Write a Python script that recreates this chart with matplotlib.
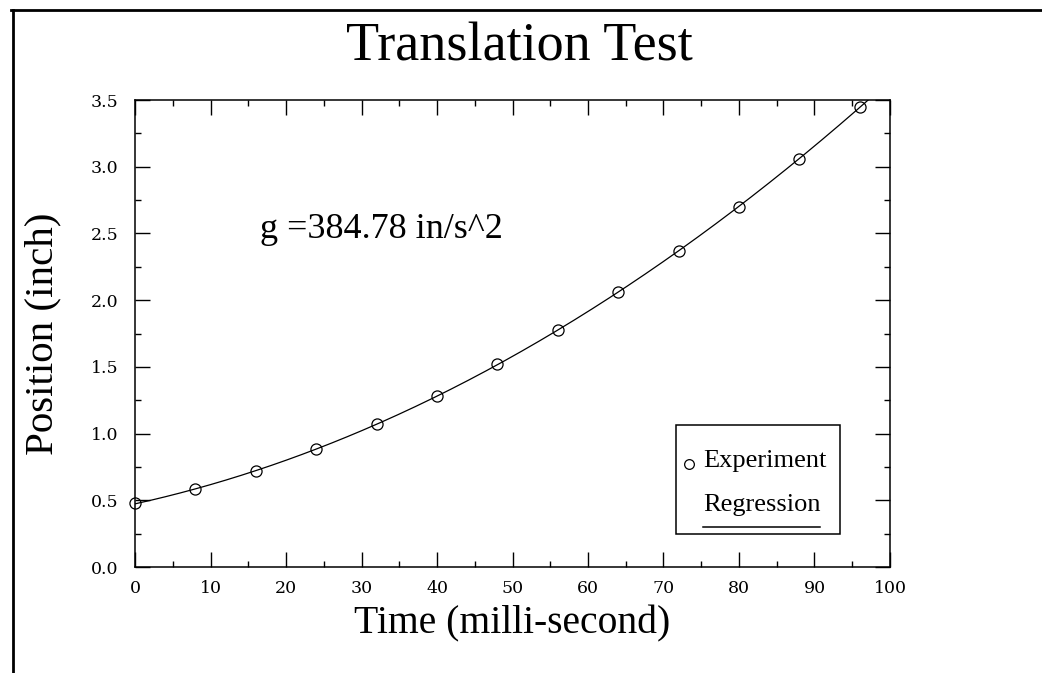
import numpy as np
import matplotlib.pyplot as plt
import matplotlib as mpl
from matplotlib.lines import Line2D
from matplotlib.patches import Rectangle

# --------- datos ---------
tiempo_ms = [0, 8, 16, 24, 32, 40, 48, 56, 64, 72, 80, 88, 96]
posicion_in = [0.477, 0.582, 0.717, 0.885, 1.072, 1.284, 1.519,
               1.777, 2.059, 2.368, 2.701, 3.056, 3.451]
x_ticks = [0, 10, 20, 30, 40, 50, 60, 70, 80, 90, 100]
y_ticks = [0.0, 0.5, 1.0, 1.5, 2.0, 2.5, 3.0, 3.5]

mpl.rcParams["font.family"] = ["Liberation Serif", "DejaVu Serif"]

fig = plt.figure(figsize=(10.42, 6.73), dpi=100)
ax = fig.add_axes([0.1296, 0.1575, 0.7245, 0.6939])

# regresion cuadratica sobre los puntos
coef = np.polyfit(tiempo_ms, posicion_in, 2)
t_fit = np.linspace(0, 100, 300)
ax.plot(t_fit, np.polyval(coef, t_fit), color="black", linewidth=0.9)
ax.plot(tiempo_ms, posicion_in, linestyle="none", marker="o",
        markersize=8, markerfacecolor="none", markeredgecolor="black",
        markeredgewidth=0.9, clip_on=False)

ax.set_xlim(0, 100)
ax.set_ylim(0, 3.5)
ax.set_xticks(x_ticks)
ax.set_yticks(y_ticks)
ax.set_xticks(np.arange(5, 100, 10), minor=True)
ax.set_yticks(np.arange(0.25, 3.5, 0.5), minor=True)
ax.set_xticklabels([str(v) for v in x_ticks],
                   fontfamily="DejaVu Serif", fontsize=12.5)
ax.set_yticklabels([f"{v:.1f}" for v in y_ticks],
                   fontfamily="DejaVu Serif", fontsize=12.5)
ax.tick_params(which="both", direction="in", top=True, right=True, width=1.0)
ax.tick_params(which="major", length=11)
ax.tick_params(which="minor", length=4)
ax.tick_params(axis="y", pad=12)
ax.tick_params(axis="x", pad=9)
for s in ax.spines.values():
    s.set_linewidth(1.1)

ax.set_xlabel("Time (milli-second)", fontsize=28.5, va="baseline")
ax.xaxis.set_label_coords(0.5, -0.1413)
ax.set_ylabel("Position (inch)", fontsize=29.5, va="center")
ax.yaxis.set_label_coords(-0.1225, 0.5)
fig.text(0.498, 0.9108, "Translation Test", fontsize=39,
         ha="center", va="baseline")
ax.text(0.1656, 0.7045, "g =384.78 in/s^2", transform=ax.transAxes,
        fontsize=26, ha="left", va="baseline")

# leyenda hecha a mano (la linea va debajo del texto)
ax.add_patch(Rectangle((0.716, 0.0707), 0.218, 0.2333, transform=ax.transAxes,
                       facecolor="white", edgecolor="black", linewidth=1.1))
ax.plot([0.7338], [0.2207], transform=ax.transAxes, marker="o", markersize=7,
        markerfacecolor="none", markeredgecolor="black", markeredgewidth=0.9)
ax.text(0.7524, 0.2265, "Experiment", transform=ax.transAxes,
        fontsize=19, ha="left", va="center")
ax.text(0.7524, 0.1328, "Regression", transform=ax.transAxes,
        fontsize=19, ha="left", va="center")
ax.plot([0.7524, 0.9073], [0.0857, 0.0857], transform=ax.transAxes,
        color="black", linewidth=1.1)

# marco exterior (solo arriba e izquierda)
fig.add_artist(Line2D([0.0106, 1.0], [0.985, 0.985], color="black", linewidth=2))
fig.add_artist(Line2D([0.0125, 0.0125], [0.0, 0.985], color="black", linewidth=2))

fig.savefig("out.png", dpi=100)
